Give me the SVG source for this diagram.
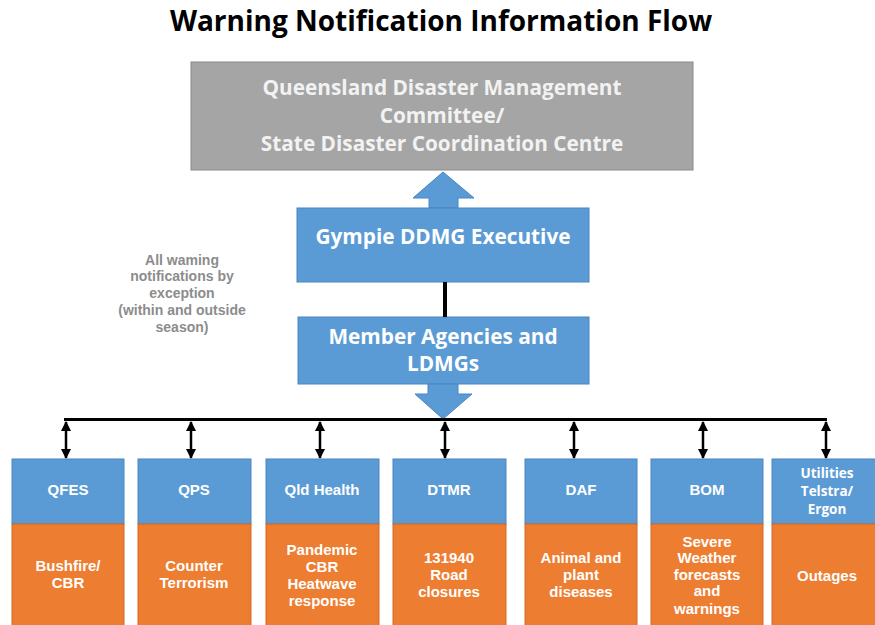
<svg xmlns="http://www.w3.org/2000/svg" width="875" height="625" viewBox="0 0 875 625">
<defs>
<marker id="ah" viewBox="0 0 10 10" refX="9" refY="5" markerWidth="4" markerHeight="4" orient="auto-start-reverse"><path d="M0,0 L10,5 L0,10 z" fill="#000"/></marker>
<style>
.title{font-family:"Open Sans",sans-serif;font-weight:bold;font-size:28px;fill:#000}
.big{font-family:"Open Sans",sans-serif;font-weight:bold;font-size:20.8px;fill:#fff;text-anchor:middle}
.gtxt{fill:#f2f2f2}
.side{font-family:"Liberation Sans",Arial,sans-serif;font-weight:bold;font-size:14px;fill:#8c8c8c;text-anchor:middle}
.ag{font-family:"Liberation Sans",Arial,sans-serif;font-weight:bold;font-size:15px;fill:#fff;text-anchor:middle}
.ut{font-family:"Open Sans",sans-serif;font-weight:bold;font-size:13.5px;fill:#fff;text-anchor:middle}
.blue{fill:#5B9BD5;stroke:#4A86C0;stroke-width:1}
.orange{fill:#ED7D31;stroke:#D46A22;stroke-width:1}
.gray{fill:#A5A5A5;stroke:#8A8A8A;stroke-width:1}
.conn{stroke:#000;fill:none}
</style>
</defs>
<text class="title" x="441" y="31" text-anchor="middle">Warning Notification Information Flow</text>

<g id="qdmc">
<rect class="gray" x="191" y="62" width="502" height="108"/>
<text class="big gtxt" x="442" y="95">Queensland Disaster Management</text>
<text class="big gtxt" x="442" y="123">Committee/</text>
<text class="big gtxt" x="442" y="151">State Disaster Coordination Centre</text>
</g>

<g id="gympie">
<path class="blue" d="M429,208 L429,198 L413,198 L443,172 L474,198 L458,198 L458,208 Z"/>
<rect class="blue" x="297" y="208" width="292" height="74"/>
<text class="big" x="443" y="244">Gympie DDMG Executive</text>
</g>

<g id="note">
<text class="side" x="182" y="265">All waming</text>
<text class="side" x="182" y="281">notifications by</text>
<text class="side" x="182" y="298">exception</text>
<text class="side" x="182" y="315">(within and outside</text>
<text class="side" x="182" y="332">season)</text>
</g>

<g id="member">
<rect class="blue" x="298" y="317" width="291" height="67"/>
<path class="blue" d="M428,384 L428,394 L415,394 L443,419 L472,394 L458,394 L458,384 Z" stroke="none"/>
<text class="big" x="443" y="344">Member Agencies and</text>
<text class="big" x="443" y="371">LDMGs</text>
</g>

<g id="connectors">
<line class="conn" x1="445" y1="282" x2="445" y2="317" stroke-width="4"/>
<line class="conn" x1="64" y1="419.5" x2="827" y2="419.5" stroke-width="3"/>
<line class="conn" x1="66" y1="422" x2="66" y2="458" stroke-width="2.5" marker-start="url(#ah)" marker-end="url(#ah)"/>
<line class="conn" x1="191" y1="422" x2="191" y2="458" stroke-width="2.5" marker-start="url(#ah)" marker-end="url(#ah)"/>
<line class="conn" x1="320" y1="422" x2="320" y2="458" stroke-width="2.5" marker-start="url(#ah)" marker-end="url(#ah)"/>
<line class="conn" x1="445" y1="422" x2="445" y2="458" stroke-width="2.5" marker-start="url(#ah)" marker-end="url(#ah)"/>
<line class="conn" x1="574" y1="422" x2="574" y2="458" stroke-width="2.5" marker-start="url(#ah)" marker-end="url(#ah)"/>
<line class="conn" x1="703" y1="422" x2="703" y2="458" stroke-width="2.5" marker-start="url(#ah)" marker-end="url(#ah)"/>
<line class="conn" x1="826" y1="422" x2="826" y2="458" stroke-width="2.5" marker-start="url(#ah)" marker-end="url(#ah)"/>
</g>

<g id="qfes">
<rect class="blue" x="12" y="459" width="112" height="65"/>
<rect class="orange" x="12" y="524" width="112" height="105"/>
<text class="ag" x="68" y="495">QFES</text>
<text class="ag" x="68" y="571">Bushfire/</text>
<text class="ag" x="68" y="588">CBR</text>
</g>

<g id="qps">
<rect class="blue" x="138" y="459" width="113" height="65"/>
<rect class="orange" x="138" y="524" width="113" height="105"/>
<text class="ag" x="194" y="495">QPS</text>
<text class="ag" x="194" y="571">Counter</text>
<text class="ag" x="194" y="588">Terrorism</text>
</g>

<g id="qldhealth">
<rect class="blue" x="266" y="459" width="113" height="65"/>
<rect class="orange" x="266" y="524" width="113" height="105"/>
<text class="ag" x="322" y="495">Qld Health</text>
<text class="ag" x="322" y="555">Pandemic</text>
<text class="ag" x="322" y="572">CBR</text>
<text class="ag" x="322" y="589">Heatwave</text>
<text class="ag" x="322" y="606">response</text>
</g>

<g id="dtmr">
<rect class="blue" x="393" y="459" width="113" height="65"/>
<rect class="orange" x="393" y="524" width="113" height="105"/>
<text class="ag" x="449" y="563">131940</text>
<text class="ag" x="449" y="495">DTMR</text>
<text class="ag" x="449" y="580">Road</text>
<text class="ag" x="449" y="597">closures</text>
</g>

<g id="daf">
<rect class="blue" x="525" y="459" width="112" height="65"/>
<rect class="orange" x="525" y="524" width="112" height="105"/>
<text class="ag" x="581" y="495">DAF</text>
<text class="ag" x="581" y="563">Animal and</text>
<text class="ag" x="581" y="580">plant</text>
<text class="ag" x="581" y="597">diseases</text>
</g>

<g id="bom">
<rect class="blue" x="651" y="459" width="112" height="65"/>
<rect class="orange" x="651" y="524" width="112" height="105"/>
<text class="ag" x="707" y="495">BOM</text>
<text class="ag" x="707" y="547">Severe</text>
<text class="ag" x="707" y="563">Weather</text>
<text class="ag" x="707" y="580">forecasts</text>
<text class="ag" x="707" y="596">and</text>
<text class="ag" x="707" y="614">warnings</text>
</g>

<g id="utilities">
<rect class="blue" x="772" y="459" width="110" height="65"/>
<rect class="orange" x="772" y="524" width="110" height="105"/>
<text class="ut" x="827" y="478">Utilities</text>
<text class="ut" x="827" y="496">Telstra/</text>
<text class="ut" x="827" y="514">Ergon</text>
<text class="ag" x="827" y="581">Outages</text>
</g>
</svg>
